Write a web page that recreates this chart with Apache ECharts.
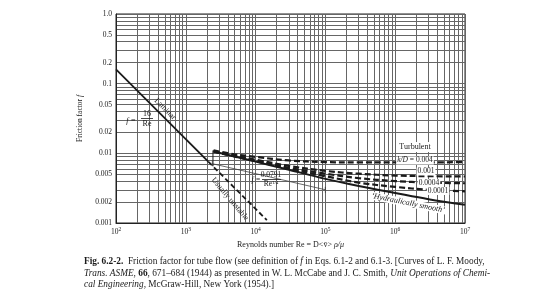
<!DOCTYPE html>
<html>
<head>
<meta charset="utf-8">
<script src="https://cdn.jsdelivr.net/npm/echarts@6.0.0/dist/echarts.min.js"></script>
<style>
  html, body { margin: 0; padding: 0; background: #fff; }
  #chart { width: 560px; height: 290px; }
</style>
</head>
<body>
<div id="chart"></div>
<script>
// tick labels
const reLabels = [1e2, 1e3, 1e4, 1e5, 1e6, 1e7];
const fLabels = [1, 0.5, 0.2, 0.1, 0.05, 0.02, 0.01, 0.005, 0.002, 0.001];

// laminar f = 16/Re, solid part and "usually unstable" dashed part
const laminarRe = [100, 2100];
const laminarF = [0.16, 0.0076];
const unstableRe = [2100, 14500];
const unstableF = [0.0076, 0.0011];

// turbulent curves (Fanning f)
const turbRe = [2500, 5000, 1e4, 3e4, 1e5, 3e5, 1e6, 3e6, 1e7];
const smoothF = [0.0106, 0.0090, 0.0076, 0.0058, 0.0043, 0.0034, 0.0027, 0.0022, 0.00183];
const kd0001F = [0.0106, 0.0090, 0.0077, 0.0060, 0.0047, 0.0038, 0.0033, 0.0030, 0.00285];
const kd0004F = [0.0107, 0.0091, 0.0079, 0.0062, 0.0051, 0.0044, 0.0040, 0.0038, 0.00372];
const kd001F = [0.0108, 0.0093, 0.0081, 0.0066, 0.0056, 0.0051, 0.0048, 0.0047, 0.00465];
const kd004F = [0.0110, 0.0097, 0.0089, 0.0079, 0.0075, 0.0074, 0.0074, 0.0074, 0.0075];

// thin transition stub and Blasius range bracket
const stubRe = [2450, 2450];
const stubF = [0.0065, 0.0110];
const bracketRe = [2400, 2400, 2400, 1e5, 1e5, 1e5];
const bracketF = [0.0078, 0.0066, 0.0071, 0.0030, 0.0033, 0.0027];

const zip = (xs, ys) => xs.map((x, i) => [x, ys[i]]);

// log grid lines at 1..9 in each decade
const minorRe = [];
for (let e = 2; e < 7; e++) for (let m = 1; m < 10; m++) minorRe.push(m * Math.pow(10, e));
minorRe.push(1e7);
const minorF = [];
for (let e = -3; e < 0; e++) for (let m = 1; m < 10; m++) minorF.push(+(m * Math.pow(10, e)).toPrecision(3));
minorF.push(1);

const serif = 'Liberation Serif';
const ink = '#1a1a1a';

const chart = echarts.init(document.getElementById('chart'));

function dashed(name, data) {
  return {
    name: name, type: 'line', data: data, symbol: 'none', smooth: 0.35,
    lineStyle: { color: ink, width: 2.2, type: [6, 3] }, z: 4
  };
}

const rich8 = size => ({
  b: { fontWeight: 'bold', fontFamily: serif, fontSize: size, fill: ink, color: ink },
  i: { fontStyle: 'italic', fontFamily: serif, fontSize: size, fill: ink, color: ink }
});

const option = {
  backgroundColor: '#fff',
  animation: false,
  grid: { left: 116, right: 95, top: 14, bottom: 67, show: true, borderColor: '#222', borderWidth: 1 },
  xAxis: {
    type: 'log', logBase: 10, min: 100, max: 1e7,
    name: 'Reynolds number Re = D<v\u0304> {i|\u03c1/\u03bc}',
    nameLocation: 'middle', nameGap: 17,
    nameTextStyle: { fontFamily: serif, fontSize: 8, color: ink, rich: rich8(8) },
    axisLine: { lineStyle: { color: '#222' } },
    axisTick: { show: false, customValues: minorRe },
    splitLine: { show: true, lineStyle: { color: '#666', width: 1 } },
    axisLabel: {
      customValues: reLabels, margin: 4, color: ink, fontFamily: serif, fontSize: 7.5,
      formatter: v => '10{s|' + Math.round(Math.log10(v)) + '}',
      rich: { s: { fontSize: 5.5, fontFamily: serif, color: ink, verticalAlign: 'top', padding: [0, 0, 4, 0] } }
    }
  },
  yAxis: {
    type: 'log', logBase: 10, min: 0.001, max: 1,
    name: 'Friction factor {i|f}',
    nameLocation: 'middle', nameGap: 20,
    nameTextStyle: { fontFamily: serif, fontSize: 7.5, color: ink, rich: rich8(7.5) },
    axisLine: { lineStyle: { color: '#222' } },
    axisTick: { show: false, customValues: minorF },
    splitLine: { show: true, lineStyle: { color: '#666', width: 1 } },
    axisLabel: {
      customValues: fLabels, margin: 4, color: ink, fontFamily: serif, fontSize: 7.5,
      formatter: v => (v === 1 ? '1.0' : String(v))
    }
  },
  series: [
    { name: 'laminar', type: 'line', data: zip(laminarRe, laminarF), symbol: 'none',
      lineStyle: { color: ink, width: 1.8 }, z: 4 },
    { name: 'unstable', type: 'line', data: zip(unstableRe, unstableF), symbol: 'none',
      lineStyle: { color: ink, width: 1.8, type: [5, 3] }, z: 4 },
    { name: 'smooth', type: 'line', data: zip(turbRe, smoothF), symbol: 'none', smooth: 0.35,
      lineStyle: { color: ink, width: 2 }, z: 4 },
    dashed('0.0001', zip(turbRe, kd0001F)),
    dashed('0.0004', zip(turbRe, kd0004F)),
    dashed('0.001', zip(turbRe, kd001F)),
    dashed('0.004', zip(turbRe, kd004F)),
    { name: 'stub', type: 'line', data: zip(stubRe, stubF), symbol: 'none',
      lineStyle: { color: ink, width: 1 }, z: 4 },
    { name: 'bracket', type: 'line', data: zip(bracketRe, bracketF), symbol: 'none',
      lineStyle: { color: '#444', width: 0.8 }, z: 4 }
  ],
  graphic: [
    { type: 'text', x: 165, y: 109, rotation: -Math.PI / 4, z: 10,
      style: { text: 'Laminar', fontFamily: serif, fontSize: 8, fill: ink, align: 'center', verticalAlign: 'middle' } },
    { type: 'text', x: 131, y: 121, z: 10,
      style: { text: 'f =', fontFamily: serif, fontStyle: 'italic', fontSize: 8, fill: ink, align: 'center', verticalAlign: 'middle' } },
    { type: 'text', x: 147, y: 114, z: 10,
      style: { text: '16', fontFamily: serif, fontSize: 8, fill: ink, align: 'center', verticalAlign: 'middle' } },
    { type: 'line', z: 10, shape: { x1: 141, y1: 118.5, x2: 153, y2: 118.5 }, style: { stroke: ink, lineWidth: 0.8 } },
    { type: 'text', x: 147, y: 124, z: 10,
      style: { text: 'Re', fontFamily: serif, fontSize: 8, fill: ink, align: 'center', verticalAlign: 'middle' } },
    { type: 'text', x: 230, y: 199, rotation: -0.87, z: 10,
      style: { text: 'Usually unstable', fontFamily: serif, fontSize: 8, fill: ink, align: 'center', verticalAlign: 'middle' } },
    { type: 'text', x: 256, y: 180, z: 10,
      style: { text: 'f =', fontFamily: serif, fontStyle: 'italic', fontSize: 7.5, fill: ink, align: 'center', verticalAlign: 'middle' } },
    { type: 'text', x: 271, y: 175, z: 10,
      style: { text: '0.0791', fontFamily: serif, fontSize: 7.5, fill: ink, align: 'center', verticalAlign: 'middle' } },
    { type: 'line', z: 10, shape: { x1: 262, y1: 179.5, x2: 281, y2: 179.5 }, style: { stroke: ink, lineWidth: 0.8 } },
    { type: 'text', x: 271, y: 184.5, z: 10,
      style: { text: 'Re{s|1/4}', fontFamily: serif, fontSize: 7.5, fill: ink, align: 'center', verticalAlign: 'middle',
        rich: { s: { fontSize: 5, fontFamily: serif, fill: ink, padding: [0, 0, 4, 0] } } } },
    { type: 'text', x: 415, y: 147, z: 10,
      style: { text: 'Turbulent', fontFamily: serif, fontSize: 8, fill: ink, align: 'center', verticalAlign: 'middle',
        backgroundColor: '#fff', padding: [1, 2] } },
    { type: 'text', x: 415, y: 160.5, z: 10,
      style: { text: '{i|k/D} = 0.004', fontFamily: serif, fontSize: 7.5, fill: ink, align: 'center', verticalAlign: 'middle',
        backgroundColor: '#fff', padding: [0, 1], rich: rich8(7.5) } },
    { type: 'text', x: 426, y: 171.5, z: 10,
      style: { text: '0.001', fontFamily: serif, fontSize: 7.5, fill: ink, align: 'center', verticalAlign: 'middle',
        backgroundColor: '#fff', padding: [0, 1] } },
    { type: 'text', x: 429, y: 183, z: 10,
      style: { text: '0.0004', fontFamily: serif, fontSize: 7.5, fill: ink, align: 'center', verticalAlign: 'middle',
        backgroundColor: '#fff', padding: [0, 1] } },
    { type: 'text', x: 438, y: 191, z: 10,
      style: { text: '0.0001', fontFamily: serif, fontSize: 7.5, fill: ink, align: 'center', verticalAlign: 'middle',
        backgroundColor: '#fff', padding: [0, 1] } },
    { type: 'text', x: 408, y: 203, rotation: -0.2, z: 10,
      style: { text: '\u2018Hydraulically smooth\u2019', fontFamily: serif, fontStyle: 'italic', fontSize: 8, fill: ink,
        align: 'center', verticalAlign: 'middle', backgroundColor: '#fff', padding: [0, 1] } },
    { type: 'text', x: 84, y: 262, z: 10,
      style: { text: '{b|Fig. 6.2-2.}  Friction factor for tube flow (see definition of {i|f} in Eqs. 6.1-2 and 6.1-3. [Curves of L. F. Moody,',
        fontFamily: serif, fontSize: 9.3, fill: ink, verticalAlign: 'middle', rich: rich8(9.3) } },
    { type: 'text', x: 84, y: 273.5, z: 10,
      style: { text: '{i|Trans. ASME}, {b|66}, 671\u2013684 (1944) as presented in W. L. McCabe and J. C. Smith, {i|Unit Operations of Chemi-}',
        fontFamily: serif, fontSize: 9.3, fill: ink, verticalAlign: 'middle', rich: rich8(9.3) } },
    { type: 'text', x: 84, y: 285, z: 10,
      style: { text: '{i|cal Engineering}, McGraw-Hill, New York (1954).]',
        fontFamily: serif, fontSize: 9.3, fill: ink, verticalAlign: 'middle', rich: rich8(9.3) } }
  ]
};

chart.setOption(option);
</script>
</body>
</html>
